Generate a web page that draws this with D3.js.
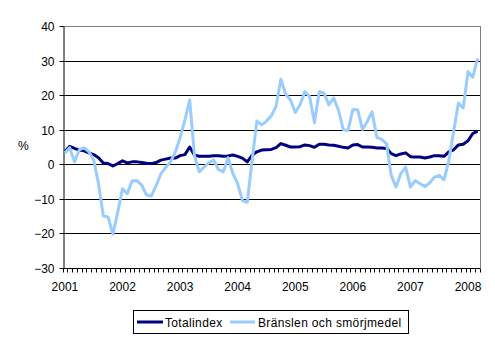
<!DOCTYPE html>
<html><head><meta charset="utf-8">
<script src="https://cdn.jsdelivr.net/npm/d3@7"></script>
<style>
body{margin:0;background:#fff;}
text{font-family:"Liberation Sans",Arial,sans-serif;font-size:12px;fill:#000;}
</style></head>
<body><svg id="c" width="495" height="342"></svg>
<script>
const years = [2001,2002,2003,2004,2005,2006,2007,2008];
const monthsInLastYear = 3;
const yTicks = [-30,-20,-10,0,10,20,30,40];
const seriesNames = ["Totalindex","Bränslen och smörjmedel"];
const totalindex = [
 3.6,5.2,4.6,4.1,3.9,3.3,2.8,1.9,0.4,0.2,-0.5,0.2,
 1.0,0.4,0.7,0.7,0.5,0.3,0.2,0.5,1.2,1.5,1.8,1.8,
 2.5,2.8,5.0,2.6,2.3,2.3,2.3,2.5,2.5,2.3,2.4,2.7,
 2.3,1.8,0.7,2.6,3.6,4.1,4.2,4.3,4.8,6.0,5.5,5.0,
 5.0,5.1,5.6,5.4,4.9,5.8,5.8,5.6,5.5,5.2,4.9,4.7,
 5.6,5.7,5.0,5.0,4.9,4.7,4.7,4.6,3.1,2.5,3.0,3.3,
 2.2,2.1,2.1,1.8,2.1,2.5,2.5,2.3,3.6,4.2,5.6,5.8,
 6.8,8.9,9.6
];
const branslen = [
 3.3,4.8,0.7,4.2,4.8,3.6,1.2,-5.6,-14.9,-15.3,-20.2,-13.9,
 -7.1,-8.5,-4.8,-4.7,-6.0,-8.9,-9.2,-6.2,-2.8,-0.9,0.7,3.5,
 7.7,12.8,18.6,2.5,-2.2,-0.8,0.5,1.2,-1.5,-2.2,1.9,-2.7,
 -5.6,-10.5,-11.0,1.0,12.5,11.4,12.5,14.0,16.7,24.6,20.3,18.6,
 15.0,17.2,21.0,19.6,12.0,21.0,20.6,17.2,19.2,15.7,10.0,9.8,
 15.8,15.8,10.1,12.3,15.2,7.8,7.2,6.0,-3.2,-6.6,-2.7,-0.8,
 -6.6,-4.7,-5.6,-6.4,-5.4,-3.7,-3.2,-4.5,1.0,9.5,17.7,16.3,
 26.8,25.2,30.6
];
const colors = ["#000080","#99CCFF"];

const cats = [];
years.forEach((y,yi)=>{const n = yi===years.length-1?monthsInLastYear:12; for(let m=1;m<=n;m++) cats.push(y+"-"+m);});

const L=62.5, R=480, T=26, B=268;
const svg = d3.select("#c");
const x = d3.scalePoint().domain(cats).range([L,R]).padding(0.5);
const y = d3.scaleLinear().domain([-30,40]).range([B,T]);
const step = x.step();

// gridlines
svg.append("g").selectAll("line").data(yTicks.filter(v=>v>-30&&v<40)).join("line")
 .attr("x1",L).attr("x2",R).attr("y1",d=>Math.round(y(d))+0.5).attr("y2",d=>Math.round(y(d))+0.5)
 .attr("stroke","#000").attr("stroke-width",1);
// top & right border (gray)
svg.append("line").attr("x1",L).attr("x2",R+0.5).attr("y1",Math.round(T)+0.5).attr("y2",Math.round(T)+0.5).attr("stroke","#808080");
svg.append("line").attr("x1",R+0.5).attr("x2",R+0.5).attr("y1",T).attr("y2",B).attr("stroke","#808080");

// y axis
const yAxis = d3.axisLeft(y).tickValues(yTicks).tickSize(4).tickPadding(5).tickSizeOuter(0);
const gy = svg.append("g").attr("transform",`translate(${Math.round(L)+0.5},0)`).call(yAxis);
gy.selectAll("line,path").attr("stroke","#000");
gy.selectAll("text").style("font-size","12px").style("font-family","'Liberation Sans',Arial,sans-serif").attr("dy","0.35em");
gy.selectAll(".tick").attr("transform",d=>`translate(0,${Math.round(y(d))+0.5})`);

// x axis: ticks at category boundaries
const gx = svg.append("g");
gx.append("line").attr("x1",L).attr("x2",R).attr("y1",Math.round(B)+0.5).attr("y2",Math.round(B)+0.5).attr("stroke","#000");
const bounds = d3.range(cats.length+1);
gx.selectAll("line.t").data(bounds).join("line").attr("class","t")
 .attr("x1",d=>Math.round(L+d*step)+0.5).attr("x2",d=>Math.round(L+d*step)+0.5)
 .attr("y1",Math.round(B)+0.5).attr("y2",Math.round(B)+4.5).attr("stroke","#000");
gx.selectAll("text").data(years).join("text")
 .attr("x",d=>x(d+"-1")).attr("y",291).attr("text-anchor","middle").text(d=>d);

// % label
svg.append("text").attr("x",18).attr("y",150).text("%");

// lines
const line = d3.line().x((d,i)=>x(cats[i])).y(d=>y(d));
[totalindex,branslen].forEach((s,k)=>{
 svg.append("path").datum(s).attr("d",line).attr("fill","none")
  .attr("stroke",colors[k]).attr("stroke-width",3).attr("stroke-linejoin","round");
});

// legend
const lg = svg.append("g");
lg.append("rect").attr("x",133.5).attr("y",310.5).attr("width",275).attr("height",23).attr("fill","#fff").attr("stroke","#000");
const legItems = [{x1:137,x2:163,tx:165},{x1:230,x2:255,tx:258}];
seriesNames.forEach((n,k)=>{
 lg.append("line").attr("x1",legItems[k].x1).attr("x2",legItems[k].x2).attr("y1",322).attr("y2",322)
  .attr("stroke",colors[k]).attr("stroke-width",3);
 lg.append("text").attr("x",legItems[k].tx).attr("y",326.5).style("letter-spacing","0.35px").text(n);
});
</script></body></html>
